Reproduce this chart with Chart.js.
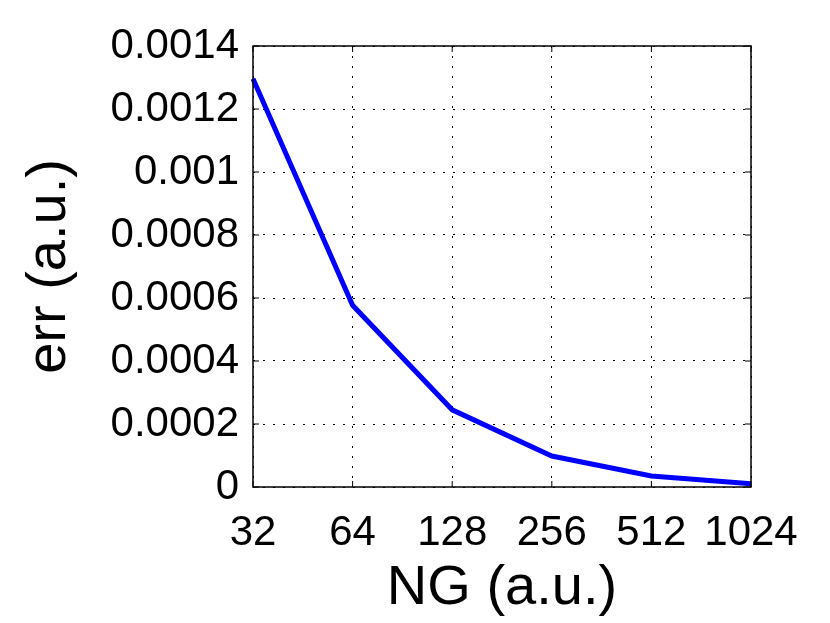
<!DOCTYPE html>
<html>
<head>
<meta charset="utf-8">
<script src="https://cdn.jsdelivr.net/npm/chart.js@4"></script>
<style>
  html, body { margin: 0; padding: 0; background: #fff; }
  #wrap { width: 830px; height: 623px; }
</style>
</head>
<body>
<div id="wrap"><canvas id="errChart"></canvas></div>
<script>
// data
const ngLabels = ['32', '64', '128', '256', '512', '1024'];
const errValues = [0.001296, 0.000577, 0.000245, 0.0000984, 0.000035, 0.0000106];
const yMin = 0;
const yMax = 0.0014;
const yStep = 0.0002;

// box around the plot plus small inward ticks (matlab style)
const boxPlugin = {
  id: 'box',
  afterDraw(chart) {
    const { ctx, chartArea: a, scales } = chart;
    ctx.save();
    ctx.strokeStyle = '#000';
    ctx.lineWidth = 1.5;
    ctx.strokeRect(a.left, a.top, a.right - a.left, a.bottom - a.top);
    ctx.lineWidth = 1;
    const t = 6;
    ctx.beginPath();
    scales.y.ticks.forEach(tk => {
      const y = scales.y.getPixelForValue(tk.value);
      ctx.moveTo(a.left, y); ctx.lineTo(a.left + t, y);
      ctx.moveTo(a.right, y); ctx.lineTo(a.right - t, y);
    });
    scales.x.ticks.forEach((tk, i) => {
      const x = scales.x.getPixelForTick(i);
      ctx.moveTo(x, a.bottom); ctx.lineTo(x, a.bottom - t);
      ctx.moveTo(x, a.top); ctx.lineTo(x, a.top + t);
    });
    ctx.stroke();
    ctx.restore();
  }
};

const ctx = document.getElementById('errChart');

new Chart(ctx, {
  type: 'line',
  data: {
    labels: ngLabels,
    datasets: [{
      data: errValues,
      borderColor: '#0000ff',
      borderWidth: 5,
      pointRadius: 0,
      tension: 0,
      fill: false
    }]
  },
  options: {
    responsive: true,
    maintainAspectRatio: false,
    animation: false,
    layout: { padding: { left: 0, right: 79, top: 46, bottom: 0 } },
    plugins: {
      legend: { display: false },
      tooltip: { enabled: false }
    },
    scales: {
      x: {
        type: 'category',
        offset: false,
        border: { display: false, dash: [2, 8] },
        grid: { color: '#000', lineWidth: 1, drawTicks: false },
        ticks: { color: '#000', padding: 21, maxRotation: 0, autoSkip: false,
          font: { family: 'Liberation Sans', size: 42 } },
        title: { display: true, text: 'NG (a.u.)', color: '#000', padding: { top: 0, bottom: 1 },
          font: { family: 'Liberation Sans', size: 56 } },
        afterFit(scale) { scale.height = 136; }
      },
      y: {
        min: yMin,
        max: yMax,
        border: { display: false, dash: [2, 8] },
        grid: { color: '#000', lineWidth: 1, drawTicks: false },
        ticks: {
          stepSize: yStep,
          color: '#000',
          padding: 14,
          font: { family: 'Liberation Sans', size: 42 },
          callback: v => String(parseFloat(v.toFixed(4)))
        },
        title: { display: true, text: 'err (a.u.)', color: '#000', padding: { top: 16, bottom: 0 },
          font: { family: 'Liberation Sans', size: 56 } },
        afterFit(scale) { scale.width = 253; }
      }
    }
  },
  plugins: [boxPlugin]
});
</script>
</body>
</html>
